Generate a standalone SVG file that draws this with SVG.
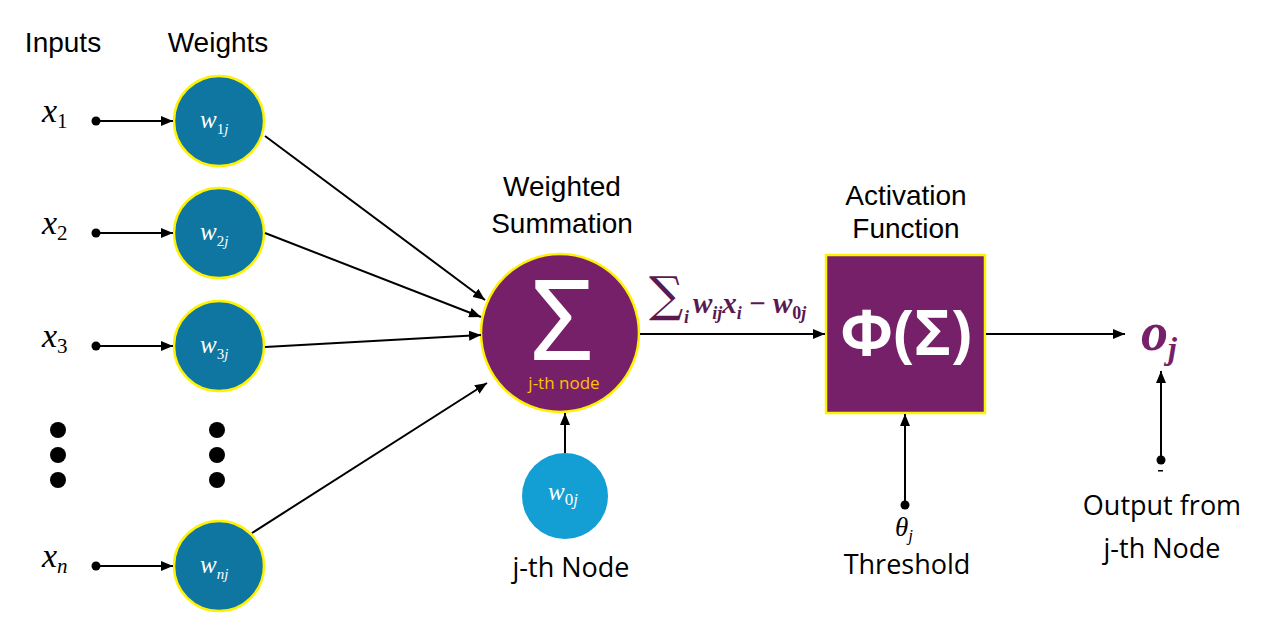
<svg xmlns="http://www.w3.org/2000/svg" width="1279" height="633" viewBox="0 0 1279 633">
<defs>
<marker id="ah" viewBox="0 0 12 10" refX="12" refY="5" markerWidth="12" markerHeight="10" markerUnits="userSpaceOnUse" orient="auto">
<path d="M0,0 L12,5 L0,10 z" fill="#000"/>
</marker>
</defs>
<style>
.lbl{font-family:"Liberation Sans",Arial,sans-serif;font-size:28px;fill:#000;text-anchor:middle}
.cal{font-family:"Open Sans","Noto Sans",sans-serif;font-size:27px;fill:#000;text-anchor:middle}
.math{font-family:"Liberation Serif","DejaVu Serif",serif;font-style:italic}
.up{font-style:normal}
.wc{fill:#0E76A0;stroke:#FFF200;stroke-width:2.5}
.wt{font-family:"Liberation Serif","DejaVu Serif",serif;font-style:italic;fill:#fff;font-size:25px}
.ln{stroke:#000;stroke-width:2;fill:none}
.arr{stroke:#000;stroke-width:2;fill:none;marker-end:url(#ah)}
.dot{fill:#000}
</style>
<rect width="1279" height="633" fill="#fff"/>

<g id="headers">
<text class="lbl" x="63" y="52">Inputs</text>
<text class="lbl" x="218" y="52">Weights</text>
<text class="lbl" x="562" y="196" font-size="31">Weighted</text>
<text class="lbl" x="562" y="233" font-size="31">Summation</text>
<text class="lbl" x="906" y="205" font-size="29">Activation</text>
<text class="lbl" x="906" y="238" font-size="29">Function</text>
</g>

<g id="inputs">
<text class="math" x="42" y="122" font-size="34">x<tspan class="up" font-size="21" dy="6">1</tspan></text>
<text class="math" x="42" y="234" font-size="34">x<tspan class="up" font-size="21" dy="6">2</tspan></text>
<text class="math" x="42" y="347" font-size="34">x<tspan class="up" font-size="21" dy="6">3</tspan></text>
<text class="math" x="42" y="567" font-size="34">x<tspan font-size="21" dy="6">n</tspan></text>
<circle class="dot" cx="58" cy="430" r="8"/>
<circle class="dot" cx="58" cy="455" r="8"/>
<circle class="dot" cx="58" cy="480" r="8"/>
</g>

<g id="w1"><circle class="wc" cx="219" cy="121" r="45"/><text class="wt" x="200" y="128">w<tspan class="up" font-size="15" dy="6">1</tspan><tspan font-size="15">j</tspan></text></g>
<g id="w2"><circle class="wc" cx="219" cy="233" r="45"/><text class="wt" x="200" y="240">w<tspan class="up" font-size="15" dy="6">2</tspan><tspan font-size="15">j</tspan></text></g>
<g id="w3"><circle class="wc" cx="219" cy="346" r="45"/><text class="wt" x="200" y="353">w<tspan class="up" font-size="15" dy="6">3</tspan><tspan font-size="15">j</tspan></text></g>
<g id="wdots">
<circle class="dot" cx="217" cy="430" r="8"/>
<circle class="dot" cx="217" cy="455" r="8"/>
<circle class="dot" cx="217" cy="480" r="8"/>
</g>
<g id="wn"><circle class="wc" cx="219" cy="566" r="45"/><text class="wt" x="200" y="573">w<tspan font-size="15" dy="6">nj</tspan></text></g>

<g id="sum">
<circle cx="560" cy="333" r="79" fill="#76206A" stroke="#FFF200" stroke-width="2.5"/>
<text text-anchor="middle"><tspan x="562" y="360" font-family="'Noto Sans','Open Sans',sans-serif" font-size="112" fill="#fff">Σ</tspan><tspan x="564" y="389" font-family="'Open Sans','Noto Sans',sans-serif" font-size="17" fill="#FFC000">j-th node</tspan></text>
</g>

<g id="bias">
<circle cx="565" cy="496" r="43" fill="#139FD4"/>
<text class="wt" x="548" y="500" font-size="25">w<tspan class="up" font-size="17" dy="5">0</tspan><tspan font-size="17">j</tspan></text>
<text class="cal" x="571" y="577">j-th Node</text>
</g>

<g id="formula" fill="#5A1A50">
<text font-family="'Liberation Serif',serif" font-style="italic" font-weight="bold" font-size="29"><tspan x="649" y="311" font-family="'DejaVu Serif',serif" font-style="normal" font-weight="normal" font-size="48">∑</tspan><tspan x="684" y="323" font-size="18">i</tspan><tspan x="693" y="313">w</tspan><tspan font-size="18" dy="6">ij</tspan><tspan dy="-6">x</tspan><tspan font-size="18" dy="6">i</tspan><tspan dy="-6" font-style="normal"> − </tspan>w<tspan font-size="18" dy="6" font-style="normal">0</tspan><tspan font-size="18">j</tspan></text>
</g>

<g id="activation">
<rect x="826" y="255" width="159" height="158" fill="#76206A" stroke="#FFF200" stroke-width="2.5"/>
<text x="906" y="355" font-family="'Open Sans','Noto Sans',sans-serif" font-weight="bold" font-size="62" fill="#fff" text-anchor="middle" textLength="132" lengthAdjust="spacingAndGlyphs">Φ(Σ)</text>
</g>

<g id="threshold">
<text class="math" x="895" y="536" font-size="27">θ<tspan font-size="17" dy="5">j</tspan></text>
<text class="cal" x="907" y="574">Threshold</text>
</g>

<g id="output">
<text x="1141" y="350" font-family="'Liberation Serif',serif" font-style="italic" font-weight="bold" font-size="54" fill="#76206A">o<tspan font-size="32" dy="9">j</tspan></text>
<text class="cal" x="1162" y="515">Output from</text>
<text class="cal" x="1162" y="558">j-th Node</text>
<rect x="1158" y="470" width="5" height="1.5" fill="#000"/>
</g>

<g id="connectors">
<circle class="dot" cx="96" cy="121" r="4.5"/><line class="arr" x1="96" y1="121" x2="173" y2="121"/>
<circle class="dot" cx="96" cy="233" r="4.5"/><line class="arr" x1="96" y1="233" x2="173" y2="233"/>
<circle class="dot" cx="96" cy="346" r="4.5"/><line class="arr" x1="96" y1="346" x2="173" y2="346"/>
<circle class="dot" cx="96" cy="566" r="4.5"/><line class="arr" x1="96" y1="566" x2="173" y2="566"/>
<line class="arr" x1="265" y1="136" x2="485" y2="300"/>
<line class="arr" x1="265" y1="233" x2="481" y2="317"/>
<line class="arr" x1="265" y1="347" x2="481" y2="335"/>
<line class="arr" x1="252" y1="533" x2="487" y2="383"/>
<line class="arr" x1="565" y1="453" x2="565" y2="413"/>
<line class="arr" x1="640" y1="334" x2="825" y2="334"/>
<circle class="dot" cx="905" cy="505" r="4.5"/><line class="arr" x1="905" y1="505" x2="905" y2="414"/>
<line class="arr" x1="986" y1="334" x2="1125" y2="334"/>
<circle class="dot" cx="1161" cy="460" r="4.5"/><line class="arr" x1="1161" y1="460" x2="1161" y2="371"/>
</g>
</svg>
